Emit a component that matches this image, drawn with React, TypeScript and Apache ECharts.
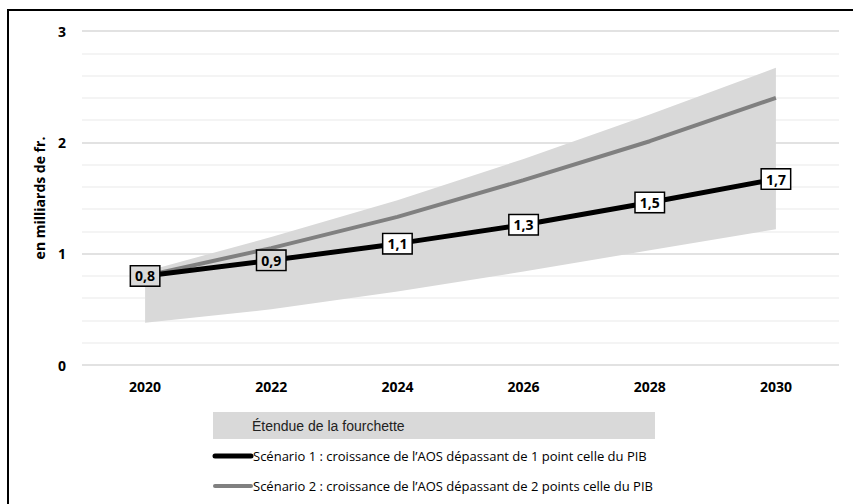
import React, { useEffect, useRef } from "react";
import * as echarts from "echarts";

const years = ["2020", "2022", "2024", "2026", "2028", "2030"];
const scenario1 = [0.8, 0.94, 1.09, 1.26, 1.46, 1.67];
const scenario2 = [0.8, 1.05, 1.33, 1.66, 2.01, 2.4];
const rangeLow = [0.38, 0.5, 0.66, 0.84, 1.03, 1.22];
const rangeHigh = [0.84, 1.15, 1.48, 1.85, 2.25, 2.67];
const labelFills = ["#d9d9d9", "#d9d9d9", "#ffffff", "#ffffff", "#ffffff", "#ffffff"];

const legendRange = "Étendue de la fourchette";
const legend1 = "Scénario 1 : croissance de l’AOS dépassant de 1 point celle du PIB";
const legend2 = "Scénario 2 : croissance de l’AOS dépassant de 2 points celle du PIB";

export default function App() {
  const ref = useRef<HTMLDivElement>(null);
  useEffect(() => {
    if (!ref.current) return;
    const chart = echarts.init(ref.current, undefined, { renderer: "svg" });
    const font = "'Open Sans', sans-serif";
    chart.setOption({
      animation: false,
      backgroundColor: "#ffffff",
      grid: { left: 82, right: 14, top: 31, bottom: 139 },
      xAxis: {
        type: "category",
        data: years,
        boundaryGap: true,
        axisLine: { show: false },
        axisTick: { show: false },
        axisLabel: { margin: 14, fontFamily: font, fontWeight: "bold", fontSize: 14, color: "#000" },
      },
      yAxis: {
        type: "value",
        min: 0,
        max: 3,
        interval: 0.2,
        name: "en milliards de fr.",
        nameLocation: "middle",
        nameGap: 36,
        nameTextStyle: { fontFamily: font, fontWeight: "bold", fontSize: 14, color: "#000" },
        axisLine: { show: false },
        axisTick: { show: false },
        axisLabel: {
          margin: 16,
          fontFamily: font,
          fontWeight: "bold",
          fontSize: 14,
          color: "#000",
          formatter: (v: number) => (Math.abs(v - Math.round(v)) < 1e-6 ? String(Math.round(v)) : ""),
        },
        splitLine: {
          lineStyle: { color: ["#d9d9d9", "#f0f0f0", "#f0f0f0", "#f0f0f0", "#f0f0f0"], width: 1.5 },
        },
      },
      series: [
        {
          type: "line",
          stack: "band",
          data: rangeLow,
          symbol: "none",
          lineStyle: { opacity: 0 },
          silent: true,
        },
        {
          type: "line",
          stack: "band",
          data: rangeHigh.map((h, i) => +(h - rangeLow[i]).toFixed(4)),
          symbol: "none",
          lineStyle: { opacity: 0 },
          areaStyle: { color: "#d9d9d9", opacity: 1 },
          silent: true,
        },
        {
          type: "line",
          data: scenario2,
          symbol: "none",
          lineStyle: { color: "#808080", width: 4 },
        },
        {
          type: "line",
          data: scenario1.map((v, i) => ({
            value: v,
            label: { backgroundColor: labelFills[i] },
          })),
          symbol: "circle",
          symbolSize: 1,
          itemStyle: { color: "#000" },
          lineStyle: { color: "#000", width: 5 },
          label: {
            show: true,
            position: "inside",
            fontFamily: font,
            fontWeight: "bold",
            fontSize: 14,
            color: "#000",
            borderColor: "#000",
            borderWidth: 1.5,
            padding: [3, 4, 2, 4],
            formatter: (p: any) => Number(p.value).toFixed(1).replace(".", ","),
          },
        },
      ],
      graphic: [
        {
          type: "rect",
          shape: { x: 8, y: 10, width: 900, height: 600 },
          style: { fill: "none", stroke: "#000", lineWidth: 2 },
          silent: true,
        },
        {
          type: "rect",
          shape: { x: 213, y: 412, width: 442, height: 27 },
          style: { fill: "#d9d9d9" },
        },
        {
          type: "text",
          x: 252,
          y: 426,
          style: {
            text: legendRange,
            fontFamily: "'Liberation Sans', Arial, sans-serif",
            fontSize: 14,
            fill: "#222",
            verticalAlign: "middle",
          },
        },
        {
          type: "line",
          shape: { x1: 215, y1: 456, x2: 251, y2: 456 },
          style: { stroke: "#000", lineWidth: 5, lineCap: "round" },
        },
        {
          type: "text",
          x: 253,
          y: 456,
          style: {
            text: legend1,
            fontFamily: "'Open Sans', sans-serif",
            fontSize: 13,
            fill: "#000",
            verticalAlign: "middle",
          },
        },
        {
          type: "line",
          shape: { x1: 215, y1: 486, x2: 251, y2: 486 },
          style: { stroke: "#808080", lineWidth: 4, lineCap: "round" },
        },
        {
          type: "text",
          x: 253,
          y: 486,
          style: {
            text: legend2,
            fontFamily: "'Open Sans', sans-serif",
            fontSize: 13,
            fill: "#000",
            verticalAlign: "middle",
          },
        },
      ],
    });
    return () => chart.dispose();
  }, []);
  return <div ref={ref} style={{ position: "fixed", left: 0, top: 0, width: 853, height: 504 }} />;
}
